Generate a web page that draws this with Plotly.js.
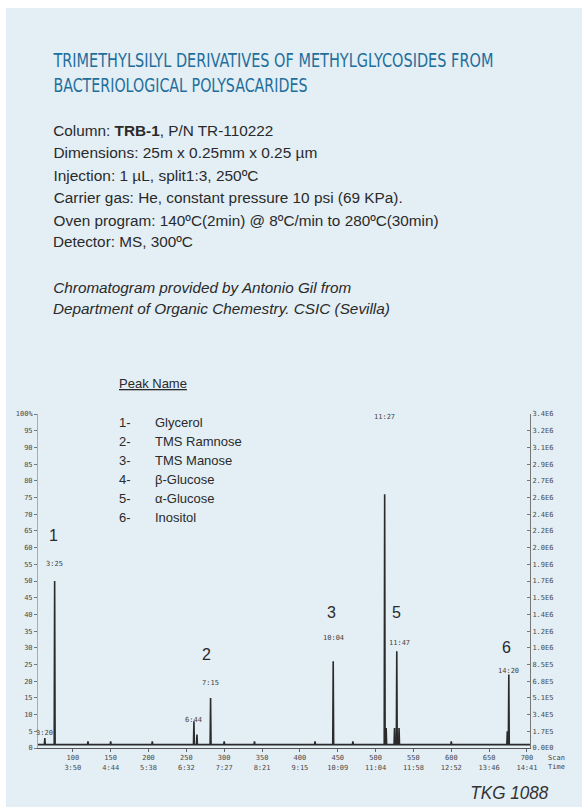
<!DOCTYPE html>
<html>
<head>
<meta charset="utf-8">
<script src="https://cdn.plot.ly/plotly-3.0.1.min.js"></script>
<style>
html,body{margin:0;padding:0;background:#ffffff;}
#panel{position:absolute;left:6px;top:8px;width:576px;height:799px;background:#e3eef5;}
#chart{position:absolute;left:0;top:0;width:582px;height:807px;}
</style>
</head>
<body>
<div id="panel"></div>
<div id="chart"></div>
<script>
// ---------- data ----------
const scanTicks = [100,150,200,250,300,350,400,450,500,550,600,650,700];
const timeTicks = ["3:50","4:44","5:38","6:32","7:27","8:21","9:15","10:09","11:04","11:58","12:52","13:46","14:41"];
const pctTicks = [0,5,10,15,20,25,30,35,40,45,50,55,60,65,70,75,80,85,90,95,100];
const pctLabels = ["0","5","10","15","20","25","30","35","40","45","50","55","60","65","70","75","80","85","90","95","100%"];
const abundLabels = ["0.0E0","1.7E5","3.4E5","5.1E5","6.8E5","8.5E5","1.0E6","1.2E6","1.4E6","1.5E6","1.7E6","1.9E6","2.0E6","2.2E6","2.4E6","2.6E6","2.7E6","2.9E6","3.1E6","3.2E6","3.4E6"];

// peaks: retention (scan number) and relative abundance (%)
const peakScans   = [63, 76, 120, 150, 205, 260, 264, 282, 300, 340, 420, 444, 470, 512, 514, 525, 528, 531, 600, 674, 676];
const peakHeights = [ 3, 50,  2,   2,   2,   8,   4,  15,   2,   2,   2,  26,   2,  76,   6,   6,  29,   6,   2,   5,  22];

// retention time labels
const rtScans  = [63, 76, 260, 282, 444, 512, 531, 676];
const rtHeights= [4.5, 55, 8.5, 19.5, 33, 99, 31.5, 23];
const rtLabels = ["3:20","3:25","6:44","7:15","10:04","11:27","11:47","14:20"];

// numbered peaks
const numLabels = ["1","2","3","4","5","6"];
const numScans  = [74, 276, 442, 505, 527, 673];
const numHeights= [63.5, 28, 40.5, 107, 40.5, 30];

const compoundNums  = ["1-","2-","3-","4-","5-","6-"];
const compoundNames = ["Glycerol","TMS Ramnose","TMS Manose","β-Glucose","α-Glucose","Inositol"];

// ---------- build trace ----------
const xs = [54], ys = [1];
peakScans.forEach((s,i)=>{ xs.push(s-0.6, s, s+0.6); ys.push(1, peakHeights[i], 1); });
xs.push(704); ys.push(1);

// ---------- helpers for pixel placement of page text ----------
const L=38, R=530, T=414, B=748;
const px = p => (p-L)/(R-L);
const py = p => (B-p)/(B-T);

const ann = [];
const fitW = {};   // annotation index -> target text width in px
function txt(x,y,text,opt,w){
  const o = Object.assign({xref:'paper',yref:'paper',x:px(x),y:py(y),text:text,showarrow:false,
    xanchor:'left',yanchor:'middle',font:{family:'Liberation Sans, Arial, sans-serif',size:15.5,color:'#2a2a2a'}},opt||{});
  if(w){ o.xanchor='center'; o.x=px(x+w/2); fitW[ann.length]=w; }
  ann.push(o);
}
const titleFont = {family:'DejaVu Sans Condensed, Liberation Sans, sans-serif',size:19,color:'#1f6f9c'};
txt(53,60,'TRIMETHYLSILYL DERIVATIVES OF METHYLGLYCOSIDES FROM',{font:titleFont},440);
txt(53,85,'BACTERIOLOGICAL POLYSACARIDES',{font:titleFont},254);
const body = ['Column: <b>TRB-1</b>, P/N TR-110222','Dimensions: 25m x 0.25mm x 0.25 µm','Injection: 1 µL, split1:3, 250ºC',
  'Carrier gas: He, constant pressure 10 psi (69 KPa).','Oven program: 140ºC(2min) @ 8ºC/min to 280ºC(30min)','Detector: MS, 300ºC'];
const bodyY = [130,152,175,197,220,242];
const bodyW = [220,264,205,349,385,140];
body.forEach((t,i)=>txt(53,bodyY[i],t,null,bodyW[i]));
txt(53,287,'<i>Chromatogram provided by Antonio Gil from</i>',null,298);
txt(53,308,'<i>Department of Organic Chemestry. CSIC (Sevilla)</i>',null,337);

const listFont = {family:'Liberation Sans, Arial, sans-serif',size:13,color:'#2a2a2a'};
txt(117,383,'<u>Peak Name</u>',{font:listFont});
compoundNums.forEach((n,i)=>{
  txt(117,422+i*19,n,{font:listFont});
  txt(153,422+i*19,compoundNames[i],{font:listFont});
});
txt(470,792,'<i>TKG 1088</i>',{font:{family:'Liberation Sans, Arial, sans-serif',size:19,color:'#333'}},78);
txt(556,762,'Scan<br>Time',{xanchor:'center',font:{family:'DejaVu Sans Mono, monospace',size:7,color:'#444'}});

// numbered peak labels (data coords)
numLabels.forEach((n,i)=>ann.push({x:numScans[i],y:numHeights[i],xref:'x',yref:'y',text:n,showarrow:false,
  font:{family:'Liberation Sans, Arial, sans-serif',size:16,color:'#2a2a2a'}}));
// retention-time labels
rtLabels.forEach((t,i)=>ann.push({x:rtScans[i],y:rtHeights[i],xref:'x',yref:'y',text:t,showarrow:false,
  font:{family:'DejaVu Sans Mono, monospace',size:7,color:'#444'}}));

const tickFont = {family:'DejaVu Sans Mono, monospace',size:7,color:'#4a4a4a'};
const data = [
  {x:xs,y:ys,type:'scatter',mode:'lines',line:{color:'#2b2b2b',width:1.6},hoverinfo:'skip',showlegend:false},
  {x:[54,704],y:[0,100],type:'scatter',mode:'markers',marker:{opacity:0},yaxis:'y2',hoverinfo:'skip',showlegend:false}
];
const layout = {
  width:582,height:807,
  margin:{l:L,r:582-R,t:T,b:807-B},
  paper_bgcolor:'rgba(0,0,0,0)',plot_bgcolor:'rgba(0,0,0,0)',
  showlegend:false,
  xaxis:{range:[54,704],tickvals:scanTicks,ticktext:scanTicks.map((s,i)=>s+'<br>'+timeTicks[i]),
    showgrid:false,zeroline:false,showline:true,linecolor:'#555',linewidth:1,ticks:'outside',ticklen:3,tickcolor:'#666',
    tickfont:tickFont,fixedrange:true},
  yaxis:{range:[0,100],tickvals:pctTicks,ticktext:pctLabels,showgrid:false,zeroline:false,showline:true,
    linecolor:'#aaa',linewidth:1,ticks:'outside',ticklen:3,tickcolor:'#777',tickfont:tickFont,fixedrange:true},
  yaxis2:{range:[0,100],overlaying:'y',side:'right',tickvals:pctTicks,ticktext:abundLabels,showgrid:false,zeroline:false,
    showline:true,linecolor:'#777',linewidth:1,ticks:'inside',ticklen:3,tickcolor:'#777',tickfont:tickFont,fixedrange:true},
  annotations:ann
};
Plotly.newPlot('chart',data,layout,{displayModeBar:false,staticPlot:true}).then(gd=>{
  gd.querySelectorAll('g.annotation').forEach(g=>{
    const idx = +g.getAttribute('data-index');
    if(fitW[idx]){
      const t = g.querySelector('text.annotation-text');
      if(t){ t.setAttribute('textLength',fitW[idx]); t.setAttribute('lengthAdjust','spacingAndGlyphs'); }
    }
  });
});
</script>
</body>
</html>
